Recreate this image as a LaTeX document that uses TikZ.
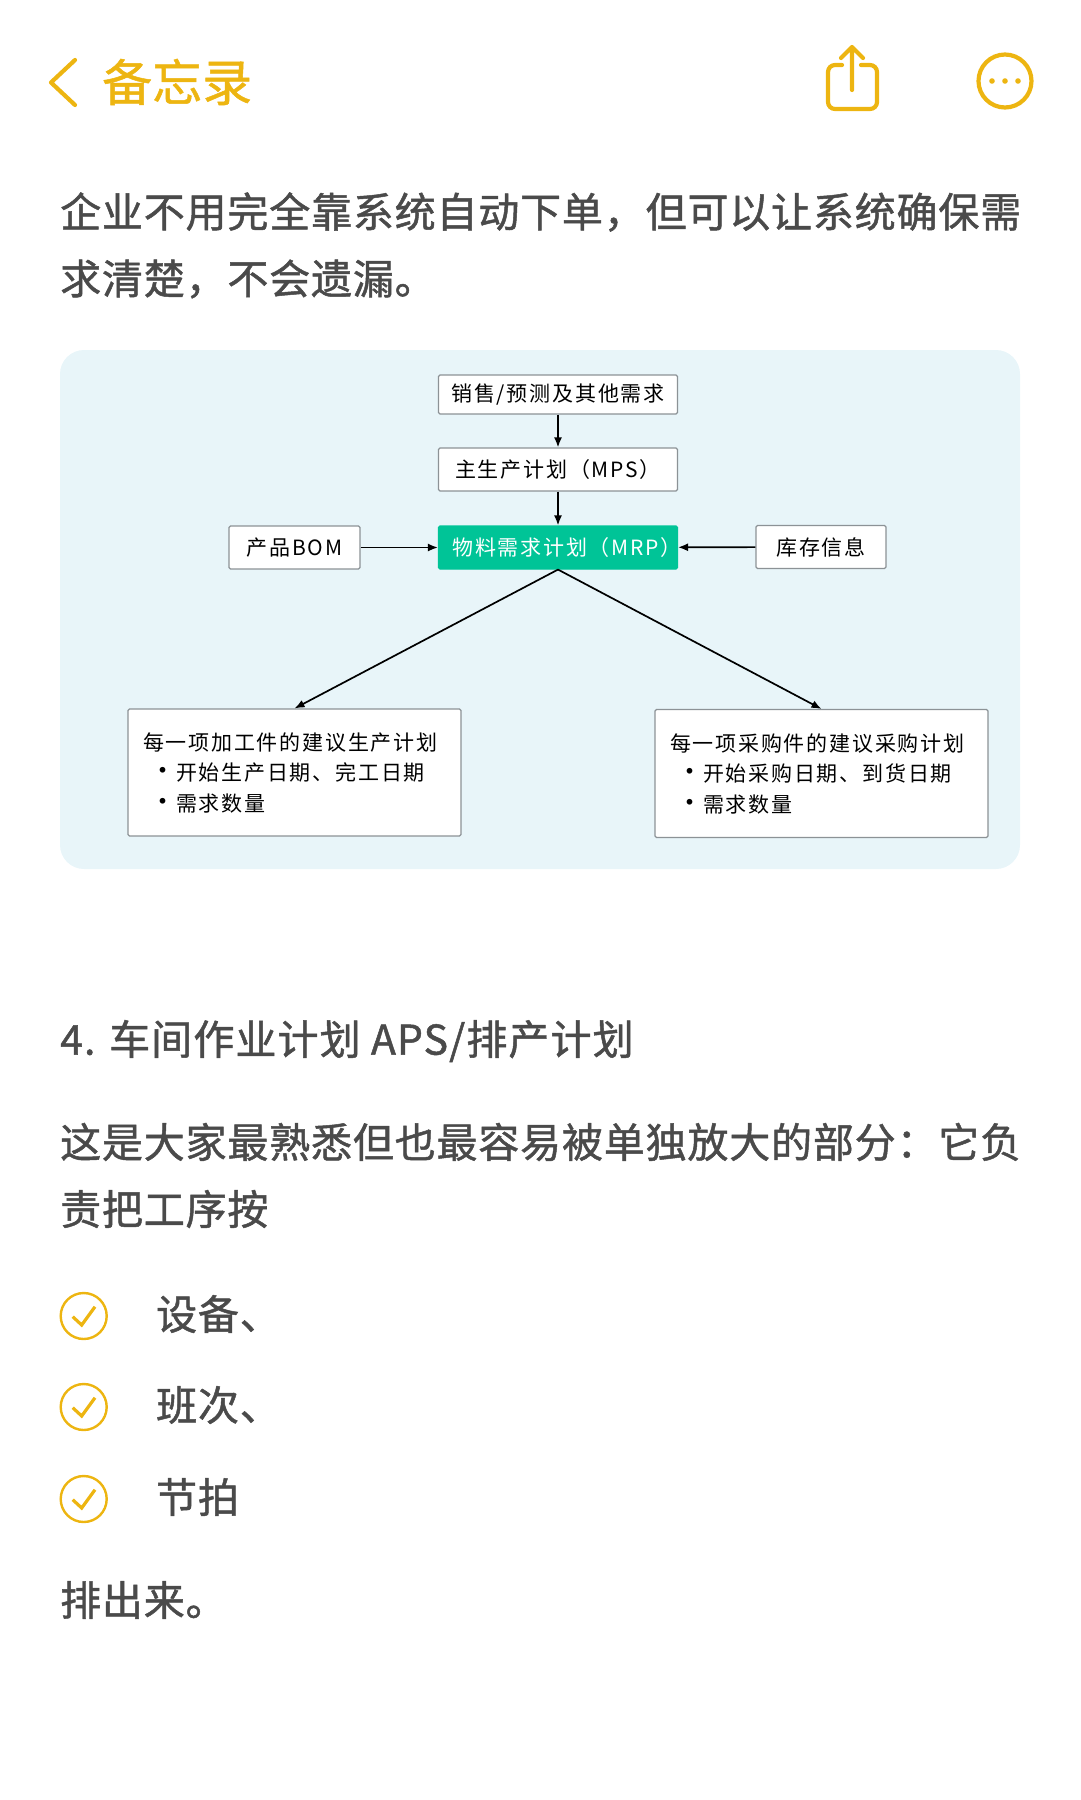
\documentclass[tikz,border=0pt]{standalone}
\usepackage{fontspec}
\usetikzlibrary{arrows.meta}
\setmainfont{Noto Sans CJK SC}
\newfontfamily\bodyfont[FakeBold=1.2,LetterSpace=2]{Noto Sans CJK SC}
\newfontfamily\headfont[FakeBold=1.2,LetterSpace=2.7]{Noto Sans CJK SC}
\newfontfamily\titlefont[FakeBold=1]{Noto Sans CJK SC}
\newfontfamily\boxfont[LetterSpace=8.5]{Noto Sans CJK SC}
\definecolor{notesyellow}{HTML}{EDB511}
\definecolor{bodygray}{HTML}{4A4A4A}
\definecolor{panelblue}{HTML}{E8F5F9}
\definecolor{boxgray}{HTML}{8C9296}
\definecolor{mrpgreen}{HTML}{00C497}
\newcommand{\bulletmark}{\hspace*{6pt}\makebox[27pt][l]{\fontsize{27}{27}\selectfont •}}
\tikzset{
  flowbox/.style={rectangle, draw=boxgray, line width=1.1pt, rounded corners=1.5pt, fill=white, text=black, inner sep=0pt, font=\boxfont\fontsize{21}{30.5}\selectfont},
  bodytext/.style={anchor=west, inner sep=0pt, text=bodygray, font=\bodyfont\fontsize{41}{41}\selectfont},
  flow/.style={line width=1.7pt, -{Latex[length=10pt, width=8pt]}},
  icon/.style={draw=notesyellow, line width=4.2pt, line cap=round, line join=round},
  tick/.style={draw=notesyellow, line width=3.2pt}
}
\begin{document}
\begin{tikzpicture}[x=1pt, y=-1pt]
  \useasboundingbox (0, 0) rectangle (1080, 1800);
  % Header
  \draw[icon] (75, 60) -- (51, 82.5) -- (75, 105);
  \node (title) [anchor=west, inner sep=0pt, text=notesyellow, font=\titlefont\fontsize{50}{50}\selectfont] at (102, 82) {备忘录};
  \draw[icon] (842, 65) -- (835, 65) to[out=180, in=90] (828, 72) -- (828, 102) to[out=-90, in=180] (835, 109) -- (870, 109) to[out=0, in=-90] (877, 102) -- (877, 72) to[out=90, in=0] (870, 65) -- (861, 65);
  \draw[icon] (852, 90) -- (852, 47) (841, 58) -- (852, 47) -- (863, 58);
  \node (more) [circle, icon, minimum size=53pt, inner sep=0pt] at (1005, 81) {};
  \foreach \dx in {-13, 0, 13} \fill[notesyellow] (1005+\dx, 81) circle (2.8);
  % Text
  \node (line1) [bodytext] at (60, 212) {企业不用完全靠系统自动下单，但可以让系统确保需};
  \node (line2) [bodytext] at (60, 279) {求清楚，不会遗漏。};
  % Panel
  \node (panel) [rectangle, fill=panelblue, rounded corners=24pt, minimum width=960pt, minimum height=519pt, inner sep=0pt] at (540, 609.5) {};
  % Nodes
  \node (demand) [flowbox, minimum width=239pt, minimum height=39pt] at (558, 394.5) {销售/预测及其他需求};
  \node (mps) [flowbox, minimum width=239pt, minimum height=43pt] at (558, 469.5) {主生产计划（MPS）};
  \node (mrp) [flowbox, draw=mrpgreen, fill=mrpgreen, text=white, minimum width=239pt, minimum height=43pt] at (558, 547.5) {\makebox[0pt]{\hspace*{18pt}物料需求计划（MRP）}};
  \node (bom) [flowbox, minimum width=131pt, minimum height=43pt] at (294.5, 547.5) {产品BOM};
  \node (stock) [flowbox, minimum width=130pt, minimum height=43pt] at (821, 547) {库存信息};
  \node (make) [flowbox, align=left, text width=303pt, minimum width=333pt, minimum height=127pt] at (294.5, 772.5) {每一项加工件的建议生产计划\\\bulletmark 开始生产日期、完工日期\\\bulletmark 需求数量};
  \node (buy) [flowbox, align=left, text width=303pt, minimum width=333pt, minimum height=128pt] at (821.5, 773.5) {每一项采购件的建议采购计划\\\bulletmark 开始采购日期、到货日期\\\bulletmark 需求数量};
  % Arrow
  \draw[flow] (demand) -- (mps);
  \draw[flow] (mps) -- (mrp);
  \draw[flow] (bom) -- (mrp);
  \draw[flow] (stock) -- (mrp);
  \draw[flow] (mrp.south) -- (make.north);
  \draw[flow] (mrp.south) -- (buy.north);
  % Text
  \node (heading) [bodytext, font=\headfont\fontsize{41}{41}\selectfont] at (60, 1041) {4. 车间作业计划 APS/排产计划};
  \node (line3) [bodytext] at (60, 1142) {这是大家最熟悉但也最容易被单独放大的部分：它负};
  \node (line4) [bodytext] at (60, 1209) {责把工序按};
  % List
  \foreach \name/\ypos/\label in {equip/1316/设备、, shift/1407/班次、, takt/1499/节拍} {
    \node (check-\name) [circle, draw=notesyellow, line width=2.4pt, minimum size=46pt, inner sep=0pt] at (83.7, \ypos) {};
    \draw[tick] (72.7, \ypos+0.7) -- (81.7, \ypos+9) -- (95, \ypos-9.3);
    \node (item-\name) [bodytext] at (156, \ypos-2) {\label};
  }
  \node (line5) [bodytext] at (60, 1600) {排出来。};
\end{tikzpicture}
\end{document}
